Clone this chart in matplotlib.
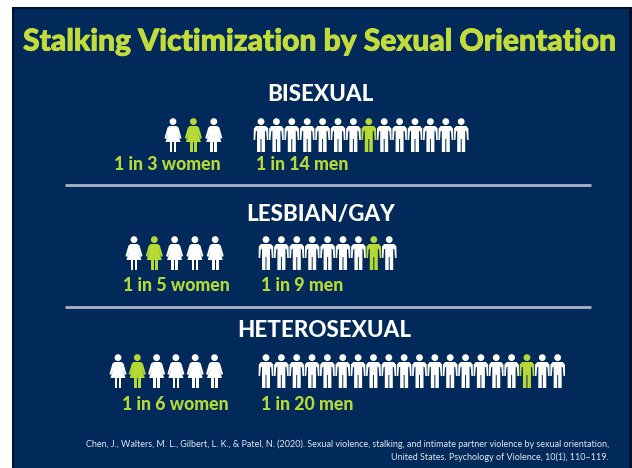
#!/usr/bin/env python3
import matplotlib
matplotlib.use("Agg")
import matplotlib.pyplot as plt
import matplotlib.patheffects as pe
from matplotlib.patches import Circle, Polygon, Rectangle

NAVY = "#012a5b"
LIME = "#c3dc3b"
GREEN = "#b6d935"
WHITE = "#ffffff"
RULE = "#a9b4c4"

groups = ["BISEXUAL", "LESBIAN/GAY", "HETEROSEXUAL"]
women_total = [3, 5, 6]
women_hit = [1, 1, 1]
men_total = [14, 9, 20]
men_hit = [7, 7, 17]
women_labels = ["1 in 3 women", "1 in 5 women", "1 in 6 women"]
men_labels = ["1 in 14 men", "1 in 9 men", "1 in 20 men"]
source = ("Chen, J., Walters, M. L., Gilbert, L. K., & Patel, N. (2020). Sexual violence, "
          "stalking, and intimate partner violence by sexual orientation,\n"
          "United States. Psychology of Violence, 10(1), 110\u2013119.")

# layout in pixels
heading_x = [320, 321, 324]
heading_y = [94.5, 214.5, 330.5]
icon_top = [118, 236, 354]
label_y = [165, 285.5, 405]
women_x = [173, 134, 118]
women_step = [20.4, 20.3, 19.3]
men_x = [261, 266, 266]
men_step = [15.4, 15.4, 15.35]
women_label_x = [167.5, 176, 175]
men_label_x = [302, 302, 307.5]
rule_y = [185, 307]


def draw_woman(ax, cx, top, color):
    ax.add_patch(Circle((cx, top + 3.6), 3.4, fc=color, ec="none"))
    ax.add_patch(Polygon([(cx - 3.5, top + 8), (cx + 3.5, top + 8), (cx + 5.5, top + 9.5),
                          (cx + 8.5, top + 20), (cx + 6.8, top + 21), (cx + 4.2, top + 14),
                          (cx + 7.5, top + 24), (cx - 7.5, top + 24), (cx - 4.2, top + 14),
                          (cx - 6.8, top + 21), (cx - 8.5, top + 20), (cx - 5.5, top + 9.5)],
                         closed=True, fc=color, ec="none"))
    ax.add_patch(Rectangle((cx - 3.4, top + 24), 2.8, 10, fc=color, ec="none"))
    ax.add_patch(Rectangle((cx + 0.6, top + 24), 2.8, 10, fc=color, ec="none"))


def draw_man(ax, cx, top, color):
    ax.add_patch(Circle((cx, top + 3.6), 3.4, fc=color, ec="none"))
    # torso and legs
    ax.add_patch(Polygon([(cx - 3.5, top + 8), (cx + 3.5, top + 8), (cx + 4, top + 13),
                          (cx + 4, top + 34), (cx + 0.5, top + 34), (cx + 0.5, top + 21),
                          (cx - 0.5, top + 21), (cx - 0.5, top + 34), (cx - 4, top + 34),
                          (cx - 4, top + 13)],
                         closed=True, fc=color, ec="none"))
    # shoulders and arms, splayed a little
    ax.add_patch(Polygon([(cx + 3, top + 8), (cx + 5, top + 8), (cx + 7.2, top + 10.5),
                          (cx + 7.4, top + 22), (cx + 5.8, top + 22), (cx + 5.2, top + 13.5),
                          (cx + 3, top + 12)], closed=True, fc=color, ec="none"))
    ax.add_patch(Polygon([(cx - 3, top + 8), (cx - 5, top + 8), (cx - 7.2, top + 10.5),
                          (cx - 7.4, top + 22), (cx - 5.8, top + 22), (cx - 5.2, top + 13.5),
                          (cx - 3, top + 12)], closed=True, fc=color, ec="none"))


fig = plt.figure(figsize=(6.32, 4.68), dpi=100, facecolor=WHITE)
ax = fig.add_axes([0, 0, 1, 1])
ax.set_xlim(0, 632)
ax.set_ylim(468, 0)
ax.axis("off")

ax.add_patch(Rectangle((12, 7), 620, 470, fc="#00102a", ec="none"))
ax.add_patch(Rectangle((14, 9), 615, 470, fc=NAVY, ec="none"))

title = ax.text(320, 41.5, "Stalking Victimization by Sexual Orientation", color=LIME,
                family="Lato", weight="black", fontsize=21.6, ha="center", va="center")
title.set_path_effects([pe.withStroke(linewidth=0.6, foreground=LIME)])

for i, name in enumerate(groups):
    ax.text(heading_x[i], heading_y[i], name, color=WHITE, family="Lato", weight="black",
            fontsize=16.1, ha="center", va="center")
    for k in range(women_total[i]):
        color = GREEN if k == women_hit[i] else WHITE
        draw_woman(ax, women_x[i] + k * women_step[i], icon_top[i], color)
    for k in range(men_total[i]):
        color = GREEN if k == men_hit[i] else WHITE
        draw_man(ax, men_x[i] + k * men_step[i], icon_top[i], color)
    ax.text(women_label_x[i], label_y[i], women_labels[i], color=GREEN, family="Lato",
            weight="black", fontsize=12.8, ha="center", va="center")
    ax.text(men_label_x[i], label_y[i], men_labels[i], color=GREEN, family="Lato",
            weight="black", fontsize=12.8, ha="center", va="center")

for y in rule_y:
    ax.plot([65, 591], [y, y], color=RULE, lw=2, solid_capstyle="butt")

ax.text(609, 451, source, color="#e3e7ee", family="Lato", fontsize=6.5, ha="right",
        va="center", linespacing=1.5, multialignment="right")

plt.savefig("out.png", dpi=100)
plt.close()
